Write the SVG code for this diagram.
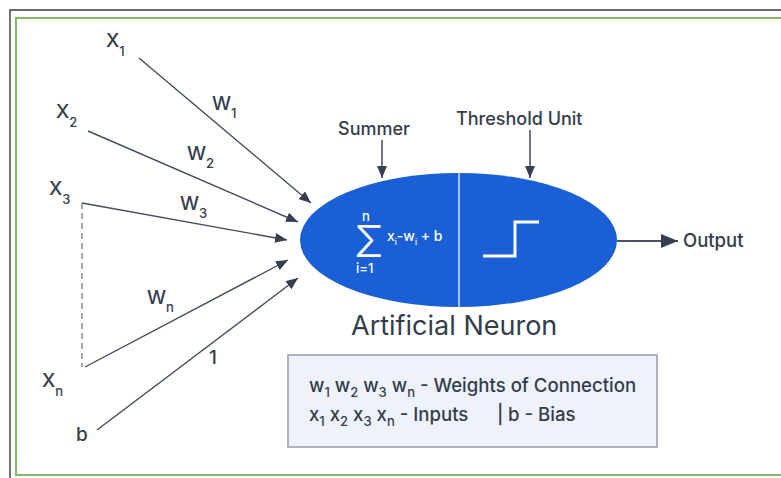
<svg xmlns="http://www.w3.org/2000/svg" width="781" height="478" viewBox="0 0 781 478">
  <defs>
    <marker id="arrow" viewBox="0 0 12 10" refX="12" refY="5" markerWidth="12" markerHeight="10" markerUnits="userSpaceOnUse" orient="auto">
      <path d="M0,0 L12,5 L0,10 Z" fill="#353f50"/>
    </marker>
    <marker id="arrowBig" viewBox="0 0 17 14" refX="17" refY="7" markerWidth="17" markerHeight="14" markerUnits="userSpaceOnUse" orient="auto">
      <path d="M0,0 L17,7 L0,14 Z" fill="#353f50"/>
    </marker>
  </defs>
  <style>
    text { font-family: Inter, "Liberation Sans", Arial, sans-serif; fill: #343d4c; font-weight: 500; }
    .lbl { font-size: 19px; }
    .sub { font-size: 13px; }
    .cap { font-size: 18px; }
    .leg { font-size: 18.6px; }
    .ls { font-size: 13px; }
    .wire { stroke: #434c5c; stroke-width: 1.4; fill: none; marker-end: url(#arrow); }
    .pin { stroke: #353f50; stroke-width: 1.4; fill: none; }
    .w, .w tspan { fill: #ffffff; }
  </style>

  <!-- frames -->
  <rect x="0" y="0" width="781" height="478" fill="#ffffff"/>
  <path d="M10,490 V10 H790" fill="none" stroke="#3a3a3a" stroke-width="1.4"/>
  <rect x="16" y="18" width="780" height="457" fill="none" stroke="#80bb65" stroke-width="2"/>

  <!-- connectors -->
  <g id="connectors">
    <line class="wire" x1="139" y1="58" x2="311" y2="203"/>
    <line class="wire" x1="88" y1="131" x2="298" y2="222"/>
    <path class="wire" d="M82,203 L287,240"/>
    <line x1="82" y1="203" x2="82" y2="367" stroke="#7d838d" stroke-width="1.4" stroke-dasharray="6,4"/>
    <line class="wire" x1="85" y1="367" x2="288" y2="260"/>
    <line class="wire" x1="97" y1="430" x2="298" y2="278"/>
    <line class="pin" x1="382" y1="140" x2="382" y2="178" marker-end="url(#arrow)"/>
    <line class="pin" x1="530" y1="130" x2="530" y2="178" marker-end="url(#arrow)"/>
    <line x1="617" y1="241" x2="678" y2="241" stroke="#485162" stroke-width="2.2" marker-end="url(#arrowBig)"/>
  </g>

  <!-- inputs -->
  <g id="input-x1"><text class="lbl" x="106" y="47">X<tspan class="sub" dy="9">1</tspan></text></g>
  <g id="input-x2"><text class="lbl" x="56" y="118">X<tspan class="sub" dy="9">2</tspan></text></g>
  <g id="input-x3"><text class="lbl" x="49" y="195">X<tspan class="sub" dy="9">3</tspan></text></g>
  <g id="input-xn"><text class="lbl" x="42" y="387">X<tspan class="sub" dy="9">n</tspan></text></g>
  <g id="input-b"><text class="lbl" x="76" y="441">b</text></g>

  <!-- weights -->
  <g id="weights">
    <text class="lbl" x="212" y="110">W<tspan class="sub" dy="8">1</tspan></text>
    <text class="lbl" x="187" y="160">W<tspan class="sub" dy="8">2</tspan></text>
    <text class="lbl" x="180" y="210">W<tspan class="sub" dy="8">3</tspan></text>
    <text class="lbl" x="147" y="304">W<tspan class="sub" dy="8">n</tspan></text>
    <text class="lbl" x="209" y="364">1</text>
  </g>

  <!-- neuron -->
  <g id="neuron">
    <ellipse cx="458.5" cy="240" rx="158.5" ry="67" fill="#1b5fd6"/>
    <line x1="459" y1="173" x2="459" y2="307" stroke="#d6e2f5" stroke-width="1.5"/>
    <text class="w" x="354" y="257" style="font-size:43px; font-weight:300;">Σ</text>
    <text class="w" x="362" y="221" style="font-size:13px;">n</text>
    <text class="w" x="356" y="273" style="font-size:13px;">i=1</text>
    <text class="w" x="387" y="241" style="font-size:14px;">x<tspan dy="4" style="font-size:8px;">i</tspan><tspan dy="-4">-w</tspan><tspan dy="4" style="font-size:8px;">i</tspan><tspan dy="-4"> + b</tspan></text>
    <path d="M483,256 H515 V222 H539" fill="none" stroke="#ffffff" stroke-width="3"/>
  </g>

  <g id="summer-label"><text class="cap" x="338" y="135">Summer</text></g>
  <g id="threshold-label"><text class="cap" x="456" y="125">Threshold Unit</text></g>
  <g id="output-label"><text class="cap" x="683" y="247" style="font-size:18.5px;">Output</text></g>
  <g id="title"><text x="351" y="335" style="font-size:27px; font-weight:400;">Artificial Neuron</text></g>

  <!-- legend -->
  <g id="legend">
    <rect x="288" y="355" width="369" height="92" fill="#eef3fb" stroke="#9aa2ae" stroke-width="1.6"/>
    <text class="leg" x="309" y="392">w<tspan class="ls" dy="5">1</tspan><tspan dy="-5"> w</tspan><tspan class="ls" dy="5">2</tspan><tspan dy="-5"> w</tspan><tspan class="ls" dy="5">3</tspan><tspan dy="-5"> w</tspan><tspan class="ls" dy="5">n</tspan><tspan dy="-5"> - Weights of Connection</tspan></text>
    <text class="leg" x="309" y="421">x<tspan class="ls" dy="5">1</tspan><tspan dy="-5"> x</tspan><tspan class="ls" dy="5">2</tspan><tspan dy="-5"> x</tspan><tspan class="ls" dy="5">3</tspan><tspan dy="-5"> x</tspan><tspan class="ls" dy="5">n</tspan><tspan dy="-5"> - Inputs</tspan></text>
    <text class="leg" x="497" y="421">|</text>
    <text class="leg" x="508" y="421">b - Bias</text>
  </g>
</svg>
